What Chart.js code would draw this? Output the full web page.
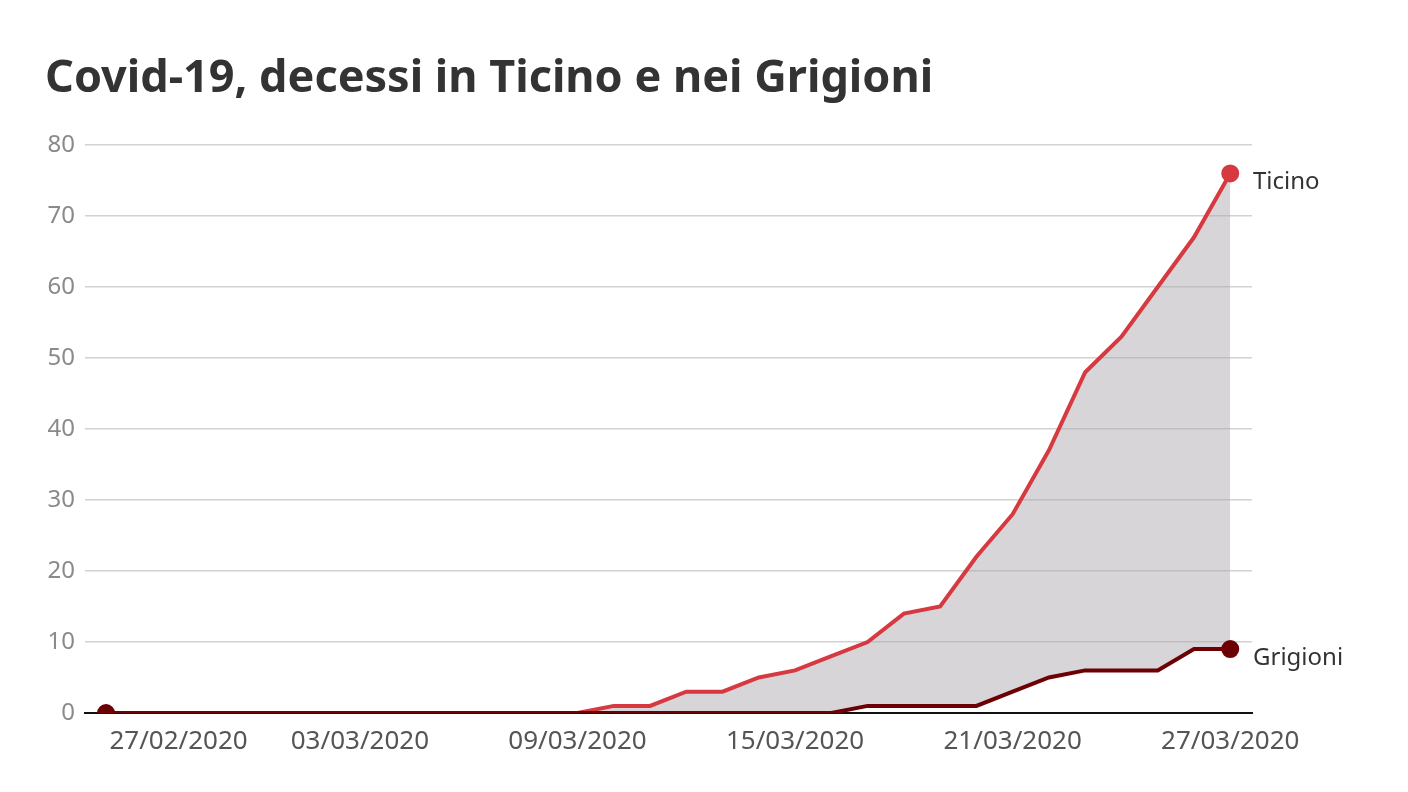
<!DOCTYPE html>
<html>
<head>
<meta charset="utf-8">
<script src="https://cdn.jsdelivr.net/npm/chart.js@4"></script>
<style>
  html, body { margin: 0; padding: 0; background: #fff; }
  #wrap { width: 1408px; height: 792px; }
</style>
</head>
<body>
<div id="wrap"><canvas id="cChart"></canvas></div>
<script>
var days = ['25/02/2020', '26/02/2020', '27/02/2020', '28/02/2020', '29/02/2020',
    '01/03/2020', '02/03/2020', '03/03/2020', '04/03/2020', '05/03/2020', '06/03/2020',
    '07/03/2020', '08/03/2020', '09/03/2020', '10/03/2020', '11/03/2020', '12/03/2020',
    '13/03/2020', '14/03/2020', '15/03/2020', '16/03/2020', '17/03/2020', '18/03/2020',
    '19/03/2020', '20/03/2020', '21/03/2020', '22/03/2020', '23/03/2020', '24/03/2020',
    '25/03/2020', '26/03/2020', '27/03/2020'];
var ticino = [0, 0, 0, 0, 0, 0, 0, 0, 0, 0, 0, 0, 0, 0,
    1, 1, 3, 3, 5, 6, 8, 10, 14, 15, 22, 28, 37, 48, 53, 60, 67, 76];
var grigioni = [0, 0, 0, 0, 0, 0, 0, 0, 0, 0, 0, 0, 0, 0, 0, 0, 0, 0, 0, 0, 0,
    1, 1, 1, 1, 3, 5, 6, 6, 6, 9, 9];
var xTickDays = ['27/02/2020', '03/03/2020', '09/03/2020', '15/03/2020', '21/03/2020', '27/03/2020'];
var yTicks = [0, 10, 20, 30, 40, 50, 60, 70, 80];
var seriesNames = ['Ticino', 'Grigioni'];
var title = 'Covid-19, decessi in Ticino e nei Grigioni';

var FONT = "'Noto Sans', sans-serif";
var RED = 'rgb(214, 58, 64)';
var DARK = 'rgb(108, 0, 4)';

function pts(arr) {
    return arr.map(function (v, i) { return { x: i, y: v }; });
}
function endPoints(r) {
    return function (ctx) {
        return (ctx.dataIndex === 0 || ctx.dataIndex === days.length - 1) ? r : 0;
    };
}

// title + end labels drawn on the canvas
var extras = {
    id: 'extras',
    afterDraw: function (chart) {
        var c = chart.ctx;
        c.save();
        c.fillStyle = '#333';
        c.font = "bold 45px " + FONT;
        c.textBaseline = 'alphabetic';
        c.textAlign = 'left';
        c.fillText(title, 45, 92);

        c.font = "24px " + FONT;
        c.textBaseline = 'middle';
        var ys = chart.scales.y;
        var last = days.length - 1;
        c.fillText(seriesNames[0], chart.chartArea.right + 1, ys.getPixelForValue(ticino[last]) + 9);
        c.fillText(seriesNames[1], chart.chartArea.right + 1, ys.getPixelForValue(grigioni[last]) + 9);
        c.restore();
    }
};

var cc = document.getElementById('cChart').getContext('2d');
var cChart = new Chart(cc, {
    type: 'line',
    data: {
        datasets: [{
            label: seriesNames[1],
            data: pts(grigioni),
            borderColor: DARK,
            backgroundColor: DARK,
            borderWidth: 4,
            pointRadius: endPoints(7),
            pointHoverRadius: 0,
            fill: false,
            tension: 0
        }, {
            label: seriesNames[0],
            data: pts(ticino),
            borderColor: RED,
            backgroundColor: 'rgba(168, 163, 168, 0.46)',
            pointBackgroundColor: RED,
            borderWidth: 4,
            pointRadius: function (ctx) { return ctx.dataIndex === days.length - 1 ? 7 : 0; },
            pointHoverRadius: 0,
            fill: '-1',
            tension: 0
        }]
    },
    options: {
        responsive: true,
        maintainAspectRatio: false,
        animation: false,
        events: [],
        layout: { padding: { top: 145, right: 156, bottom: 29, left: 45 } },
        plugins: {
            legend: { display: false },
            tooltip: { enabled: false },
            title: { display: false }
        },
        scales: {
            x: {
                type: 'linear',
                min: -0.58,
                max: days.length - 1 + 0.6,
                afterBuildTicks: function (scale) {
                    scale.ticks = xTickDays.map(function (d) { return { value: days.indexOf(d) }; });
                },
                afterFit: function (scale) { scale.height = 50; },
                ticks: {
                    callback: function (v) { return days[v]; },
                    color: '#555',
                    font: { family: FONT, size: 26 },
                    padding: 13,
                    maxRotation: 0,
                    autoSkip: false
                },
                grid: { display: false, drawTicks: false },
                border: { display: true, color: '#111', width: 2 }
            },
            y: {
                min: 0,
                max: 80,
                afterBuildTicks: function (scale) {
                    scale.ticks = yTicks.map(function (v) { return { value: v }; });
                },
                afterFit: function (scale) { scale.width = 40; },
                ticks: {
                    color: '#8a8a8a',
                    font: { family: FONT, size: 24 },
                    padding: 10
                },
                grid: {
                    color: function (ctx) { return ctx.tick && ctx.tick.value === 0 ? 'rgba(0,0,0,0)' : '#d2d2d2'; },
                    lineWidth: 1.5,
                    drawTicks: false
                },
                border: { display: false }
            }
        }
    },
    plugins: [extras]
});
</script>
</body>
</html>
